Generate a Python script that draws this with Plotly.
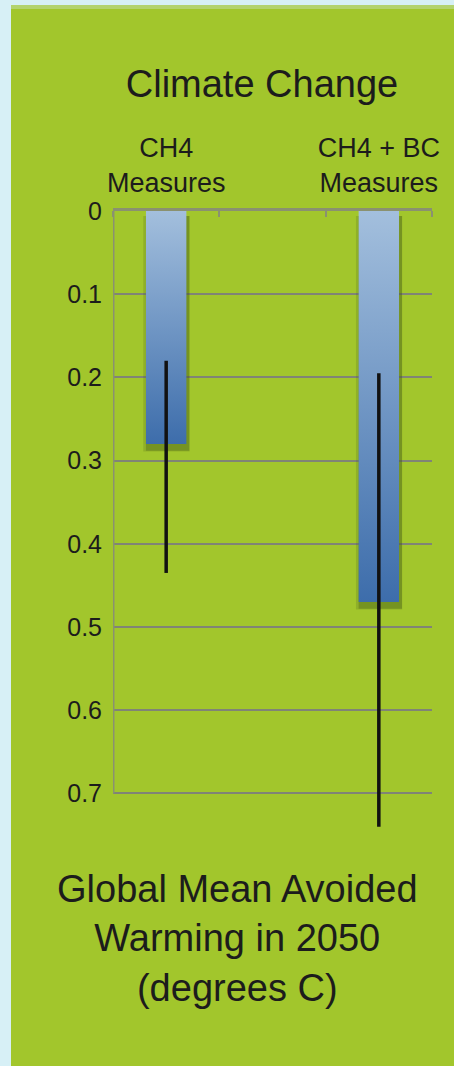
import plotly.graph_objects as go

# --- data -----------------------------------------------------------------
categories = ["CH4<br>Measures", "CH4 + BC<br>Measures"]
slots = [0, 2]                      # slot index on a three-slot category axis
avoided_warming = [0.28, 0.47]      # central estimate, degrees C
range_low = [0.18, 0.195]
range_high = [0.435, 0.74]
y_ticks = [0, 0.1, 0.2, 0.3, 0.4, 0.5, 0.6, 0.7]
y_tick_labels = ["0", "0.1", "0.2", "0.3", "0.4", "0.5", "0.6", "0.7"]

# --- page geometry ----------------------------------------------------------
W, H = 454, 1066
M_L, M_R, M_T, M_B = 113, 22, 211, 206
PLOT_W = W - M_L - M_R
PLOT_H = H - M_T - M_B

GREEN = "#a2c62c"
PALE_GREEN = "#b3d36e"
SKY = "#d7f0f6"
GRID = "rgb(128,132,118)"
AXIS = "rgb(138,145,112)"
INK = "#1c1c1c"
FONT = "Liberation Sans"
BAR_W = 0.38


def px_x(p):
    return (p - M_L) / PLOT_W


def px_y(p):
    return (H - M_B - p) / PLOT_H


fig = go.Figure()

# soft drop shadow behind each bar
for x, v in zip(slots, avoided_warming):
    fig.add_trace(go.Scatter(
        x=[x - BAR_W / 2 - 0.025, x + BAR_W / 2 + 0.03, x + BAR_W / 2 + 0.03,
           x - BAR_W / 2 - 0.025, x - BAR_W / 2 - 0.025],
        y=[0.006, 0.006, v + 0.009, v + 0.009, 0.006],
        fill="toself", mode="none", fillcolor="rgba(70,92,25,0.2)",
        hoverinfo="skip", showlegend=False))
    fig.add_trace(go.Scatter(
        x=[x - BAR_W / 2, x + BAR_W / 2 + 0.028, x + BAR_W / 2 + 0.028,
           x - BAR_W / 2, x - BAR_W / 2],
        y=[0.006, 0.006, v + 0.008, v + 0.008, 0.006],
        fill="toself", mode="none", fillcolor="rgba(60,80,20,0.3)",
        hoverinfo="skip", showlegend=False))

# bars with a light-to-dark blue vertical gradient
for x, v, name in zip(slots, avoided_warming, categories):
    fig.add_trace(go.Scatter(
        x=[x - BAR_W / 2, x + BAR_W / 2, x + BAR_W / 2, x - BAR_W / 2, x - BAR_W / 2],
        y=[0, 0, v, v, 0],
        fill="toself", mode="none",
        fillgradient=dict(type="vertical", start=0, stop=v,
                          colorscale=[[0, "#a3bfdd"], [1, "#3d6dab"]]),
        name=name.replace("<br>", " "), showlegend=False))

# uncertainty ranges
ex, ey = [], []
for x, lo, hi in zip(slots, range_low, range_high):
    ex += [x, x, None]
    ey += [lo, hi, None]
fig.add_trace(go.Scatter(x=ex, y=ey, mode="lines",
                         line=dict(color="#111111", width=3.5),
                         hoverinfo="skip", showlegend=False))

fig.update_layout(
    width=W, height=H, autosize=False,
    margin=dict(l=M_L, r=M_R, t=M_T, b=M_B, pad=0),
    paper_bgcolor=GREEN, plot_bgcolor=GREEN,
    font=dict(family=FONT, color=INK),
    title=dict(text="Climate Change", font=dict(size=38, color=INK),
               xref="container", yref="container",
               x=262 / W, y=1 - 84 / H, xanchor="center", yanchor="middle"),
    xaxis=dict(range=[-0.5, 2.5], side="top", fixedrange=True,
               tickmode="array", tickvals=slots, ticktext=categories,
               ticks="", ticklabelstandoff=5, tickfont=dict(size=27, color=INK),
               showline=True, linecolor=AXIS, linewidth=3,
               showgrid=False, zeroline=False,
               minor=dict(tickmode="array", tickvals=[-0.5, 0.5, 1.5, 2.5],
                          ticks="inside", ticklen=6, tickwidth=2,
                          tickcolor=AXIS, showgrid=False)),
    yaxis=dict(range=[0.78, 0], fixedrange=True,
               tickmode="array", tickvals=y_ticks, ticktext=y_tick_labels,
               ticks="", ticklabelstandoff=10,
               tickfont=dict(size=25, color=INK),
               showgrid=True, gridcolor=GRID, gridwidth=2,
               zeroline=False, showline=False),
    shapes=[
        # left axis rule from 0 to 0.7
        dict(type="line", xref="x", yref="y", x0=-0.5, x1=-0.5, y0=0, y1=0.7,
             line=dict(color=AXIS, width=3), layer="above"),
        # pale sky frame along the left and top edges
        dict(type="rect", xref="paper", yref="paper",
             x0=px_x(0), x1=px_x(11), y0=px_y(H), y1=px_y(0),
             fillcolor=SKY, line=dict(width=0), layer="below"),
        dict(type="rect", xref="paper", yref="paper",
             x0=px_x(0), x1=px_x(W), y0=px_y(5), y1=px_y(0),
             fillcolor=SKY, line=dict(width=0), layer="below"),
        dict(type="rect", xref="paper", yref="paper",
             x0=px_x(11), x1=px_x(W), y0=px_y(9), y1=px_y(5),
             fillcolor=PALE_GREEN, line=dict(width=0), layer="below"),
    ],
    annotations=[
        dict(text="Global Mean Avoided<br>Warming in 2050<br>(degrees C)",
             xref="paper", yref="paper", x=px_x(237), y=px_y(866),
             xanchor="center", yanchor="top", showarrow=False, align="center",
             font=dict(size=38, color=INK, family=FONT)),
    ],
)

fig.write_html("out.html")
